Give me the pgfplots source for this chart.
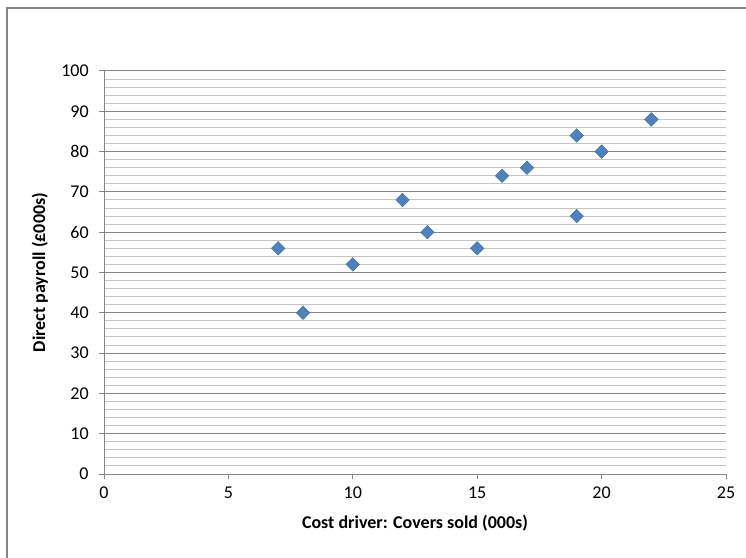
\documentclass[border=0pt]{standalone}
\usepackage{fontspec}
\setmainfont{Carlito}
\usepackage{pgfplots}
\pgfplotsset{compat=1.18}
\definecolor{gridmajor}{HTML}{868686}
\definecolor{gridminor}{HTML}{C4C4C4}
\definecolor{markblue}{HTML}{4F81BD}
\begin{document}
\begin{tikzpicture}
\useasboundingbox (0,0) rectangle (559.5pt,417.75pt);
\begin{scope}
\clip (0,0) rectangle (559.5pt,417.75pt);
\draw[color=gridmajor, line width=1pt] (5.2pt,-20pt) rectangle (580pt,411.75pt);
\end{scope}
\begin{axis}[
  at={(78pt,62.25pt)}, anchor=south west,
  scale only axis,
  width=466.5pt, height=302.25pt,
  xmin=0, xmax=25, ymin=0, ymax=100,
  xtick={0,5,...,25}, ytick={0,10,...,100},
  minor y tick num=4,
  axis lines*=left,
  axis line style={color=gridmajor, line width=0.75pt},
  every outer x axis line/.append style={-},
  every outer y axis line/.append style={-},
  tick align=outside,
  major tick length=4pt,
  minor tick length=0pt,
  tick style={color=gridmajor, line width=0.75pt},
  ymajorgrids, yminorgrids,
  major grid style={color=gridmajor, line width=0.75pt},
  minor grid style={color=gridminor, line width=0.75pt},
  /pgf/number format/assume math mode=true,
  tick label style={font=\fontsize{13.5}{16}\selectfont},
  yticklabel style={anchor=east, xshift=-4pt},
  xticklabel style={anchor=north, yshift=-2pt},
  xlabel={Cost driver: Covers sold (000s)},
  ylabel={Direct payroll (£000s)},
  label style={font=\bfseries\fontsize{13.5}{16}\selectfont},
  xlabel style={at={(axis description cs:0.5,0)}, anchor=center, yshift=-36.75pt},
  ylabel style={at={(axis description cs:-0.103,0.5)}, anchor=center, rotate=0},
  clip=false,
]
\addplot[only marks, mark=square*, mark size=3.6pt,
  mark options={rotate=45, fill=markblue, draw=markblue!85!black, line width=0.3pt}]
  table[row sep=crcr]{
  x y \\
  7 56 \\
  8 40 \\
  10 52 \\
  12 68 \\
  13 60 \\
  15 56 \\
  16 74 \\
  17 76 \\
  19 84 \\
  19 64 \\
  20 80 \\
  22 88 \\
  };
\end{axis}
\end{tikzpicture}
\end{document}
